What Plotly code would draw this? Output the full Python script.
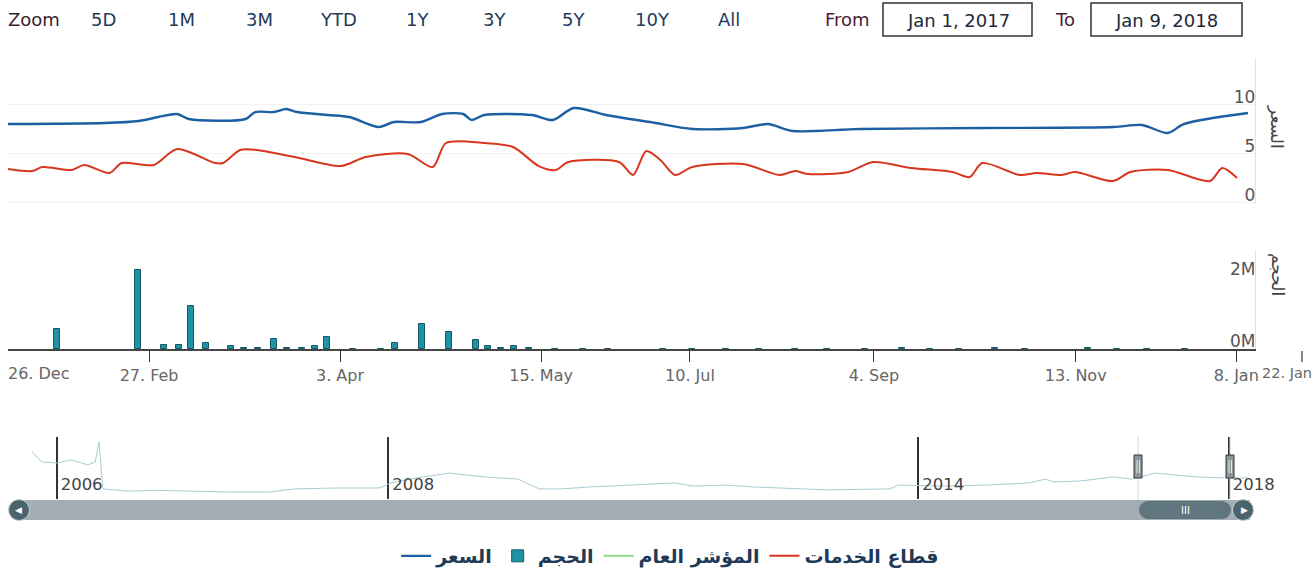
import plotly.graph_objects as go

W, H = 1314, 572

# ---------------- data (ordinal trading-session index, as Highstock ordinal axis) ----------------
price_session = [0, 12.4, 16.8, 21.7, 23.2, 30.5, 31.7, 34.1, 35.7, 37.1, 41.1, 43.8, 47.6, 49.5, 53.0,
                 55.7, 58.4, 59.5, 61.1, 67.2, 69.9, 72.6, 76.7, 82.4, 87.8, 94.3, 97.5, 100.7, 109.3,
                 125.6, 141.8, 145.5, 148.8, 150.9, 159.1]
price_value = [8.01, 8.11, 8.32, 9.03, 8.52, 8.52, 9.23, 9.23, 9.54, 9.23, 8.93, 8.72, 7.70, 8.21, 8.21,
               9.03, 9.03, 8.42, 8.93, 8.93, 8.42, 9.64, 8.93, 8.21, 7.50, 7.60, 8.01, 7.30, 7.50,
               7.60, 7.70, 7.91, 7.09, 8.01, 9.13]

sector_session = [0, 3.1, 4.4, 8.2, 9.8, 13.0, 14.6, 18.7, 21.7, 26.6, 27.6, 29.8, 31.9, 36.8, 42.7,
                  45.9, 51.3, 54.5, 56.2, 61.1, 64.8, 68.1, 70.3, 71.9, 78.4, 80.2, 81.9, 83.7, 85.6,
                  87.8, 94.3, 99.0, 101.0, 102.6, 107.8, 111.0, 115.9, 121.2, 123.4, 125.0, 129.8,
                  132.0, 135.2, 136.9, 141.8, 144.0, 148.8, 154.2, 155.8, 157.7]
sector_value = [3.42, 3.21, 3.62, 3.32, 3.83, 3.01, 4.03, 3.83, 5.46, 4.03, 4.03, 5.36, 5.36, 4.64, 3.72,
                4.64, 4.95, 3.62, 6.07, 6.07, 5.66, 3.72, 3.32, 4.13, 4.13, 2.81, 5.26, 4.34, 2.81,
                3.62, 3.93, 2.81, 3.21, 2.91, 3.11, 4.13, 3.52, 3.11, 2.60, 4.03, 2.81,
                3.01, 2.81, 3.11, 2.19, 3.11, 3.32, 2.19, 3.52, 2.50]

volume_session = [6.3, 16.7, 20.0, 21.9, 23.5, 25.4, 28.6, 30.3, 32.1, 34.1, 35.8, 37.7, 39.4, 40.9,
                  44.3, 47.9, 49.7, 53.1, 56.6, 60.0, 61.6, 63.3, 64.9, 66.8, 70.2, 73.8, 77.0,
                  84.0, 87.8, 92.1, 96.4, 101.0, 105.1, 110.0, 114.7, 118.3, 122.0, 126.6, 130.5,
                  138.6, 142.3, 146.1, 151.0]
volume_millions = [0.55, 2.18, 0.11, 0.12, 1.19, 0.17, 0.08, 0.04, 0.03, 0.28, 0.04, 0.03, 0.08, 0.33,
                   0.01, 0.01, 0.17, 0.69, 0.47, 0.25, 0.07, 0.04, 0.07, 0.03, 0.01, 0.01, 0.01,
                   0.005, 0.005, 0.005, 0.005, 0.005, 0.005, 0.005, 0.02, 0.005, 0.005, 0.02, 0.005,
                   0.02, 0.005, 0.005, 0.005]

x_tick_sessions = [18.1, 42.6, 68.4, 87.5, 111.1, 137.0, 157.6]
x_tick_labels = ["27. Feb", "3. Apr", "15. May", "10. Jul", "4. Sep", "13. Nov", "8. Jan"]

# navigator (full history, ordinal index 0..100)
nav_index = [1.9, 2.7, 3.9, 5.1, 6.4, 7.0, 7.3, 7.6, 9.5, 12.0, 14.5, 17.9, 20.9, 23.0, 26.4, 29.8, 30.7,
             33.0, 35.4, 38.2, 40.9, 42.6, 44.3, 46.6, 50.0, 52.3, 53.5, 54.9, 57.5, 59.9, 62.5, 65.7,
             70.7, 71.4, 75.1, 78.5, 81.9, 83.2, 83.9, 86.0, 88.6, 90.1, 92.0, 95.3, 97.4, 99.4]
nav_value = [20.0, 15.4, 15.0, 16.3, 14.2, 15.5, 23.8, 4.2, 3.3, 3.6, 3.3, 2.9, 2.9, 4.2, 4.6, 4.6, 6.7,
             9.0, 10.8, 9.2, 8.3, 4.2, 4.2, 5.0, 5.8, 6.3, 6.7, 5.4, 5.8, 5.0, 4.6, 3.8,
             4.2, 5.8, 5.4, 5.8, 6.7, 8.3, 7.1, 7.5, 9.2, 8.3, 10.8, 9.2, 8.8, 8.8]
nav_tick_index = [3.9, 30.5, 73.0, 97.9]
nav_tick_labels = ["2006", "2008", "2014", "2018"]

zoom_buttons = ["5D", "1M", "3M", "YTD", "1Y", "3Y", "5Y", "10Y", "All"]
date_from, date_to = "Jan 1, 2017", "Jan 9, 2018"

# ---------------- helpers ----------------
def fx(px):
    return px / W

def fy(py):
    return 1 - py / H

BLUE = "#1d5fa3"
RED = "#d8361f"
TEAL = "#1f93a3"
GREEN = "#8fd88a"
NAVY = "#1f3b58"
TICKFONT = "DejaVu Sans"

fig = go.Figure()

fig.add_trace(go.Scatter(x=price_session, y=price_value, name="السعر", mode="lines",
                         line=dict(color=BLUE, width=2.4, shape="spline", smoothing=0.8),
                         xaxis="x", yaxis="y"))
fig.add_trace(go.Bar(x=volume_session, y=volume_millions, name="الحجم", width=0.8,
                     marker=dict(color=TEAL, line=dict(color="#145a66", width=1)),
                     xaxis="x", yaxis="y2"))
fig.add_trace(go.Scatter(x=[None], y=[None], name="المؤشر العام", mode="lines",
                         line=dict(color=GREEN, width=2), xaxis="x", yaxis="y"))
fig.add_trace(go.Scatter(x=sector_session, y=sector_value, name="قطاع الخدمات", mode="lines",
                         line=dict(color=RED, width=2, shape="spline", smoothing=0.8),
                         xaxis="x", yaxis="y"))
fig.add_trace(go.Scatter(x=nav_index, y=nav_value, mode="lines", showlegend=False,
                         line=dict(color="#a7ccd2", width=1), xaxis="x2", yaxis="y3",
                         hoverinfo="skip"))

x_dom = [fx(8), fx(1255)]
fig.update_layout(
    width=W, height=H, margin=dict(l=0, r=0, t=0, b=0, autoexpand=False),
    paper_bgcolor="white", plot_bgcolor="white",
    font=dict(family="DejaVu Sans", color="#555"),
    bargap=0,
    xaxis=dict(domain=x_dom, anchor="y2", range=[0, 160], showgrid=False, zeroline=False,
               automargin=False,
               tickmode="array", tickvals=x_tick_sessions, ticktext=x_tick_labels,
               ticks="outside", ticklen=11, tickcolor="#333", tickwidth=1.2,
               showline=True, linecolor="#444", linewidth=1.5,
               tickfont=dict(size=16, color="#666", family=TICKFONT)),
    yaxis=dict(domain=[fy(204), fy(58)], range=[(202.5 - 204) / 9.8, (202.5 - 58) / 9.8],
               automargin=False,
               side="right", anchor="x", tickvals=[0, 5, 10], ticklabelposition="inside",
               ticklabelshift=-7, ticklabeloverflow="allow", showgrid=True,
               gridcolor="#f2f2f2", gridwidth=1,
               zeroline=False, showline=True, linecolor="#d3e6ec", linewidth=1,
               tickfont=dict(size=17, color="#555")),
    yaxis2=dict(domain=[fy(349), fy(250)], range=[0, (349 - 250) / 36.2],
                automargin=False,
                side="right", anchor="x", tickvals=[0, 2], ticktext=["0M", "2M"],
                ticklabelposition="inside", ticklabelshift=-8, ticklabeloverflow="allow",
                showgrid=False,
                zeroline=False, showline=True, linecolor="#d3e6ec", linewidth=1,
                tickfont=dict(size=17, color="#555")),
    xaxis2=dict(domain=x_dom, anchor="y3", range=[0, 100], tickmode="array",
                automargin=False,
                tickvals=nav_tick_index, ticktext=nav_tick_labels, showgrid=True,
                gridcolor="#333", gridwidth=2, ticks="", zeroline=False, showline=False,
                ticklabelposition="inside right", ticklabeloverflow="allow", ticklabelshift=4,
                tickfont=dict(size=16.5, color="#444")),
    yaxis3=dict(domain=[fy(499), fy(437)], range=[0, 62 / 2.4], anchor="x2", automargin=False,
                showgrid=False, showticklabels=False, zeroline=False, showline=False),
    legend=dict(orientation="h", x=0.510, xanchor="center", y=fy(556), yanchor="middle",
                font=dict(size=19, color=NAVY, family="DejaVu Sans", weight="bold"),
                itemwidth=30, traceorder="normal", bgcolor="rgba(0,0,0,0)"),
    showlegend=True,
)

TOP = 18
ann = []
# range selector row
ann.append(dict(text="Zoom", x=fx(34), y=fy(19), font=dict(size=TOP, color="#3d1f2a")))
btn_x = [103, 181, 259, 338, 417, 494, 573, 652, 729]
for lbl, px in zip(zoom_buttons, btn_x):
    ann.append(dict(text=lbl, x=fx(px), y=fy(19), font=dict(size=TOP, color=NAVY)))
ann.append(dict(text="From", x=fx(847), y=fy(19), font=dict(size=TOP, color="#4a2233")))
ann.append(dict(text="To", x=fx(1065), y=fy(19), font=dict(size=TOP, color="#4a2233")))
for txt, px in [(date_from, 958), (date_to, 1166)]:
    ann.append(dict(text=txt, x=fx(px), y=fy(20), font=dict(size=TOP, color="#1c2a3a")))
# axis titles (opposite side, rotated)
ann.append(dict(text="السعر", x=fx(1277), y=fy(127), textangle=90,
                font=dict(size=17, color="#444")))
ann.append(dict(text="الحجم", x=fx(1277), y=fy(274), textangle=90,
                font=dict(size=17, color="#444")))
# justified edge tick labels
ann.append(dict(text="26. Dec", x=fx(39), y=fy(373), font=dict(size=16, color="#666",
                family=TICKFONT)))
ann.append(dict(text="22. Jan", x=fx(1314), y=fy(373), xanchor="right",
                font=dict(size=14.5, color="#666", family=TICKFONT)))
# scrollbar glyphs
ann.append(dict(text="◀", x=fx(18), y=fy(510), font=dict(size=9, color="white")))
ann.append(dict(text="▶", x=fx(1244), y=fy(510), font=dict(size=9, color="white")))
ann.append(dict(text="III", x=fx(1185), y=fy(510), font=dict(size=10, color="white")))
for a in ann:
    a.setdefault("xref", "paper")
    a.setdefault("yref", "paper")
    a.setdefault("showarrow", False)
    a.setdefault("xanchor", "center")
    a.setdefault("yanchor", "middle")
fig.update_layout(annotations=ann)

shapes = []
def rect(x0, y0, x1, y1, **kw):
    d = dict(type="rect", xref="paper", yref="paper", x0=fx(x0), x1=fx(x1), y0=fy(y1), y1=fy(y0),
             layer="above")
    d.update(kw)
    shapes.append(d)

def circle(cx, cy, r, **kw):
    d = dict(type="circle", xref="paper", yref="paper", x0=fx(cx - r), x1=fx(cx + r),
             y0=fy(cy + r), y1=fy(cy - r), layer="above")
    d.update(kw)
    shapes.append(d)

def line(x0, y0, x1, y1, **kw):
    d = dict(type="line", xref="paper", yref="paper", x0=fx(x0), x1=fx(x1), y0=fy(y0), y1=fy(y1),
             layer="above")
    d.update(kw)
    shapes.append(d)

# date input boxes
rect(883, 3, 1032, 36, line=dict(color="#333", width=1.5), fillcolor="rgba(0,0,0,0)")
rect(1091, 3, 1242, 36, line=dict(color="#333", width=1.5), fillcolor="rgba(0,0,0,0)")
# tick for 22 Jan (outside plot)
line(1302, 351, 1302, 362, line=dict(color="#333", width=1.2))
# navigator selection lines and handles
line(1138, 437, 1138, 500, line=dict(color="#c9dbe0", width=1))
line(1230, 437, 1230, 500, line=dict(color="#c9dbe0", width=1))
rect(1134, 455, 1142, 478, line=dict(color="#333", width=1), fillcolor="#8d979b")
rect(1226, 455, 1234, 478, line=dict(color="#333", width=1), fillcolor="#8d979b")
line(1137, 460, 1137, 473, line=dict(color="#e8e8e8", width=1))
line(1139.5, 460, 1139.5, 473, line=dict(color="#e8e8e8", width=1))
line(1229, 460, 1229, 473, line=dict(color="#e8e8e8", width=1))
line(1231.5, 460, 1231.5, 473, line=dict(color="#e8e8e8", width=1))
# scrollbar
rect(14, 500, 1250, 520, line=dict(width=0), fillcolor="#a4aeb2")
rect(1148, 501, 1222, 519, line=dict(width=0), fillcolor="#5f767e")
circle(1148, 510, 9, line=dict(width=0), fillcolor="#5f767e")
circle(1222, 510, 9, line=dict(width=0), fillcolor="#5f767e")
circle(19, 510, 10.5, line=dict(color="#c8d0d3", width=1), fillcolor="#4a636d")
circle(1243, 510, 10.5, line=dict(color="#c8d0d3", width=1), fillcolor="#4a636d")
fig.update_layout(shapes=shapes)

fig.write_html("out.html", config={"displayModeBar": False},
               post_script="document.body.style.margin='0';document.body.style.overflow='hidden';")
